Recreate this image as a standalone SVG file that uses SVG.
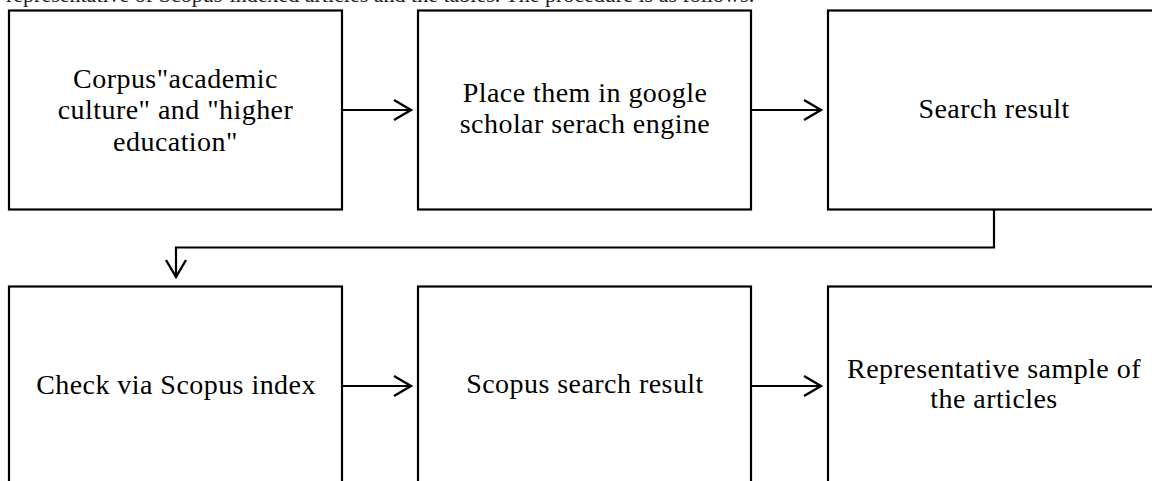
<svg xmlns="http://www.w3.org/2000/svg" width="1152" height="481" viewBox="0 0 1152 481">
<style>
.box{fill:#fff;stroke:#000;stroke-width:2.2}
.lbl{font-family:"Liberation Serif","Times New Roman",serif;font-size:28px;letter-spacing:0.45px;fill:#000;text-anchor:middle}
.body{font-family:"Liberation Serif","Times New Roman",serif;font-size:22px;fill:#222}
.conn{fill:none;stroke:#000;stroke-width:2.2}
</style>
<defs>
<marker id="arr" markerUnits="userSpaceOnUse" markerWidth="22" markerHeight="26" refX="19" refY="13" orient="auto">
<path d="M2,3 L19,13 L2,23" fill="none" stroke="#000" stroke-width="2.4"/>
</marker>
</defs>
<rect width="1152" height="481" fill="#fff"/>
<text class="body" x="6" y="1.5">representative of Scopus-indexed articles and the tables. The procedure is as follows:</text>
<g id="n1"><rect class="box" x="9" y="10.5" width="333" height="199"/>
<text class="lbl" x="175.5" y="87.5">Corpus"academic</text>
<text class="lbl" x="175.5" y="119">culture" and "higher</text>
<text class="lbl" x="175.5" y="150.5">education"</text></g>
<g id="n2"><rect class="box" x="418" y="10.5" width="333" height="199"/>
<text class="lbl" x="585" y="101.7">Place them in google</text>
<text class="lbl" x="585" y="133.3">scholar serach engine</text></g>
<g id="n3"><rect class="box" x="828" y="10.5" width="333" height="199"/>
<text class="lbl" x="994" y="118.3">Search result</text></g>
<g id="n4"><rect class="box" x="9" y="286.5" width="333" height="220"/>
<text class="lbl" x="176" y="394">Check via Scopus index</text></g>
<g id="n5"><rect class="box" x="418" y="286.5" width="333" height="220"/>
<text class="lbl" x="585" y="393.3">Scopus search result</text></g>
<g id="n6"><rect class="box" x="828" y="286.5" width="333" height="220"/>
<text class="lbl" x="994" y="378">Representative sample of</text>
<text class="lbl" x="994" y="408">the articles</text></g>
<g id="connectors">
<path class="conn" d="M342,110 H411" marker-end="url(#arr)"/>
<path class="conn" d="M751,110 H821" marker-end="url(#arr)"/>
<path class="conn" d="M994,209.5 V247.5 H176 V277" marker-end="url(#arr)"/>
<path class="conn" d="M342,386 H411" marker-end="url(#arr)"/>
<path class="conn" d="M751,386 H821" marker-end="url(#arr)"/>
</g>
</svg>
